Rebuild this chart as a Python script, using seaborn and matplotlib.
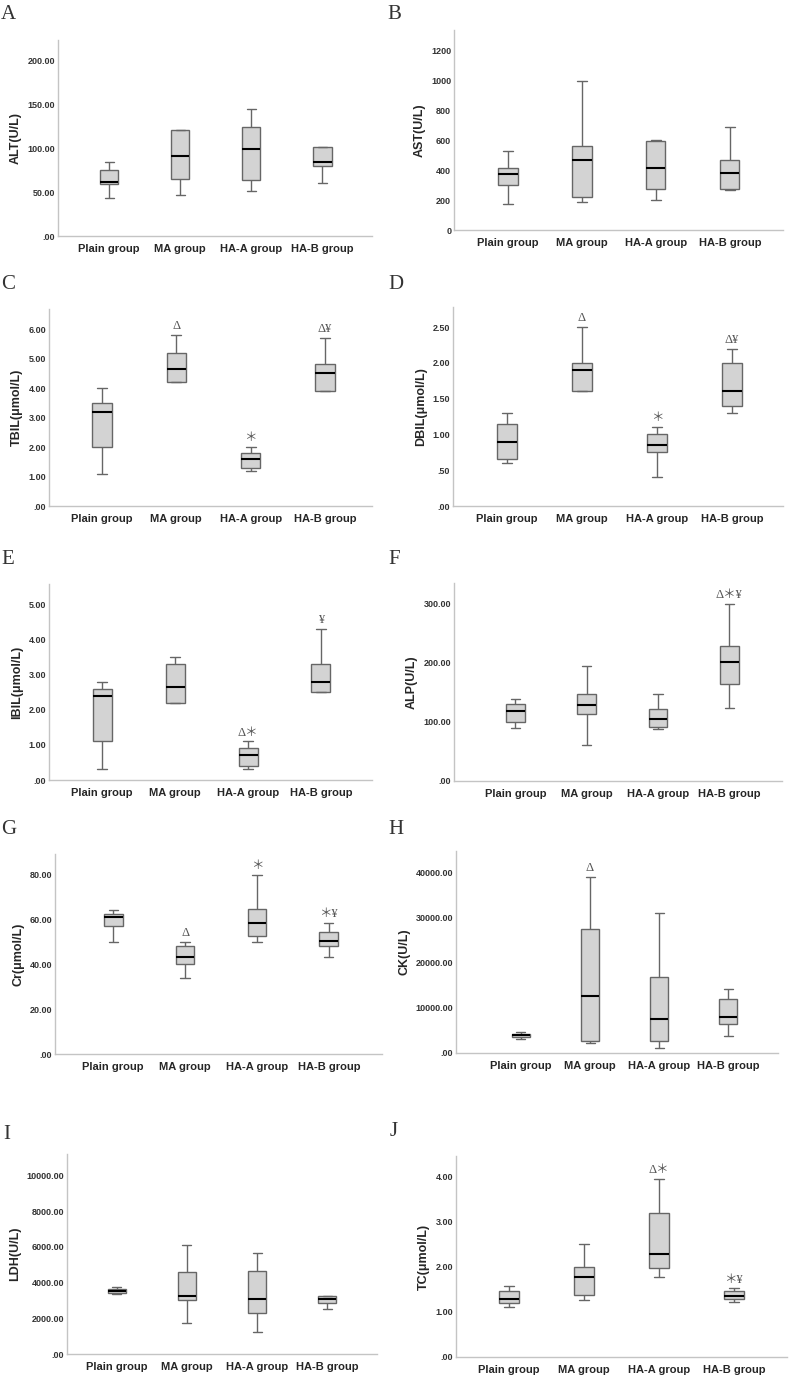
import numpy as np
import pandas as pd
import matplotlib
matplotlib.use("Agg")
import matplotlib.pyplot as plt
from matplotlib.ticker import FuncFormatter, MultipleLocator
import seaborn as sns

groups = ["Plain group", "MA group", "HA-A group", "HA-B group"]

# five-number summaries: min, Q1, median, Q3, max
alt = [[44, 59, 62, 76, 85], [47, 65, 92, 121, 121],
       [52, 64, 99, 125, 145], [61, 80, 85, 102, 102]]
ast = [[175, 300, 372, 417, 530], [185, 223, 468, 560, 1000],
       [200, 274, 417, 595, 604], [265, 276, 383, 466, 687]]
tbil = [[1.1, 2.0, 3.2, 3.5, 4.0], [4.2, 4.2, 4.65, 5.2, 5.8],
        [1.2, 1.3, 1.6, 1.8, 2.0], [3.9, 3.9, 4.5, 4.8, 5.7]]
dbil = [[0.6, 0.65, 0.9, 1.15, 1.3], [1.6, 1.6, 1.9, 2.0, 2.5],
        [0.4, 0.75, 0.85, 1.0, 1.1], [1.3, 1.4, 1.6, 2.0, 2.2]]
ibil = [[0.3, 1.1, 2.4, 2.6, 2.8], [2.2, 2.2, 2.65, 3.3, 3.5],
        [0.3, 0.4, 0.7, 0.9, 1.1], [2.5, 2.5, 2.8, 3.3, 4.3]]
alp = [[90, 100, 119, 130, 138], [61, 113, 129, 148, 194],
       [88, 92, 105, 122, 147], [124, 164, 202, 229, 300]]
cr = [[50, 57.3, 61.3, 62.4, 64.3], [34, 40, 43.4, 48, 50],
      [50, 52.8, 58.4, 64.6, 80], [43.3, 48.2, 50.4, 54.3, 58.4]]
ck = [[3180, 3475, 3920, 4290, 4660], [2290, 2740, 12570, 27360, 39000],
      [1180, 2590, 7620, 16860, 30900], [3770, 6510, 8060, 11980, 14270]]
ldh = [[3380, 3400, 3500, 3660, 3750], [1720, 3000, 3250, 4590, 6080],
       [1250, 2300, 3100, 4660, 5630], [2520, 2850, 3100, 3250, 3250]]
tc = [[1.10, 1.20, 1.29, 1.46, 1.58], [1.26, 1.37, 1.78, 2.0, 2.51],
      [1.77, 1.97, 2.28, 3.19, 3.95], [1.23, 1.28, 1.35, 1.46, 1.52]]

# significance marks above each group
no_marks = ["", "", "", ""]
tbil_marks = ["", "Δ", "＊", "Δ¥"]
dbil_marks = ["", "Δ", "＊", "Δ¥"]
ibil_marks = ["", "", "Δ＊", "¥"]
alp_marks = ["", "", "", "Δ＊¥"]
cr_marks = ["", "Δ", "＊", "＊¥"]
ck_marks = ["", "Δ", "", ""]
tc_marks = ["", "", "Δ＊", "＊¥"]

sns.set_theme(style="white")
plt.rcParams["font.family"] = ["Liberation Sans", "DejaVu Sans"]

W, H = 790, 1379
fig = plt.figure(figsize=(W / 100, H / 100), dpi=100)


def spss_fmt(v, pos):
    s = f"{v:.2f}"
    return s[1:] if s.startswith("0.") else s


def int_fmt(v, pos):
    return f"{v:.0f}"


# letter, y label, stats, marks, tick step, y top, formatter,
# axes box in px (left, top, right, bottom), xlim, letter pos
panels = [
    ("A", "ALT(U/L)", alt, no_marks, 50, 224, spss_fmt, (58, 40, 372, 236), (-0.72, 3.70), (1, 5)),
    ("B", "AST(U/L)", ast, no_marks, 200, 1338, int_fmt, (454, 30, 783, 230), (-0.73, 3.72), (387, 5)),
    ("C", "TBIL(μmol/L)", tbil, tbil_marks, 1, 6.68, spss_fmt, (49, 309, 372, 506), (-0.71, 3.63), (1, 275)),
    ("D", "DBIL(μmol/L)", dbil, dbil_marks, 0.5, 2.78, spss_fmt, (453, 307, 783, 506), (-0.72, 3.68), (388, 275)),
    ("E", "IBIL(μmol/L)", ibil, ibil_marks, 1, 5.59, spss_fmt, (49, 584, 372, 780), (-0.73, 3.70), (1, 550)),
    ("F", "ALP(U/L)", alp, alp_marks, 100, 335, spss_fmt, (454, 583, 782, 781), (-0.86, 3.74), (388, 550)),
    ("G", "Cr(μmol/L)", cr, cr_marks, 20, 89.2, spss_fmt, (55, 854, 382, 1054), (-0.81, 3.74), (1, 820)),
    ("H", "CK(U/L)", ck, ck_marks, 10000, 44730, spss_fmt, (456, 851, 778, 1053), (-0.94, 3.72), (388, 820)),
    ("I", "LDH(U/L)", ldh, no_marks, 2000, 11194, spss_fmt, (67, 1154, 377, 1354), (-0.71, 3.71), (3, 1125)),
    ("J", "TC(μmol/L)", tc, tc_marks, 1, 4.46, spss_fmt, (456, 1156, 787, 1357), (-0.71, 3.71), (390, 1122)),
]

for letter, ylabel, stats, marks, step, ytop, fmt, box, xlim, lpos in panels:
    l, t, r, b = box
    ax = fig.add_axes([l / W, 1 - b / H, (r - l) / W, (b - t) / H])
    df = pd.DataFrame({"group": np.repeat(groups, 5),
                       "value": np.concatenate(stats)})
    sns.boxplot(data=df, x="group", y="value", order=groups, ax=ax,
                width=0.26, whis=(0, 100), showfliers=False,
                color="#d3d3d3", linecolor="#666666", linewidth=1.0,
                saturation=1,
                medianprops={"color": "black", "linewidth": 1.5})
    ax.set_xlim(*xlim)
    ax.set_ylim(0, ytop)
    ax.yaxis.set_major_locator(MultipleLocator(step))
    ax.yaxis.set_major_formatter(FuncFormatter(fmt))
    ax.set_xlabel("")
    ax.set_ylabel(ylabel, fontweight="bold", fontsize=9, labelpad=4)
    ax.tick_params(axis="both", length=0)
    ax.tick_params(axis="x", labelsize=8, pad=6)
    ax.tick_params(axis="y", labelsize=6.5, pad=2, labelcolor="#333333")
    plt.setp(ax.get_xticklabels(), fontweight="bold")
    plt.setp(ax.get_yticklabels(), fontweight="bold")
    ax.spines[["top", "right"]].set_visible(False)
    for side in ["left", "bottom"]:
        ax.spines[side].set_color("#c4c4c4")
        ax.spines[side].set_linewidth(1.0)
    for i, m in enumerate(marks):
        if m:
            ax.annotate(m, (i, max(stats[i])), xytext=(0, 2),
                        textcoords="offset points", ha="center", va="bottom",
                        fontsize=9, color="#555555",
                        family=["Liberation Serif", "Noto Sans CJK SC"])
    fig.text(lpos[0] / W, 1 - lpos[1] / H, letter, ha="left", va="top",
             fontsize=15, family="Liberation Serif", color="#333333")

fig.savefig("out.png", dpi=100, facecolor="white")
